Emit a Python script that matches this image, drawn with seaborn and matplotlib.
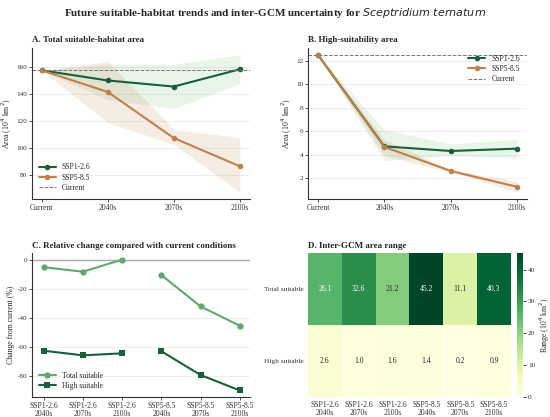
import matplotlib
matplotlib.use("Agg")
import matplotlib.pyplot as plt
import seaborn as sns
import numpy as np
import pandas as pd

# ---- data ----
periods = ["Current", "2040s", "2070s", "2100s"]
total_ssp126 = [157.5, 150.0, 145.5, 158.3]
total_ssp126_lo = [157.5, 136.0, 129.3, 147.8]
total_ssp126_hi = [157.5, 162.1, 161.9, 169.0]
total_ssp585 = [157.5, 141.5, 107.4, 86.5]
total_ssp585_lo = [157.5, 118.8, 102.8, 67.4]
total_ssp585_hi = [157.5, 164.0, 113.9, 107.7]

high_ssp126 = [12.5, 4.7, 4.3, 4.5]
high_ssp126_lo = [12.5, 3.5, 3.9, 3.7]
high_ssp126_hi = [12.5, 6.1, 4.9, 5.3]
high_ssp585 = [12.5, 4.65, 2.6, 1.25]
high_ssp585_lo = [12.5, 3.9, 2.5, 0.8]
high_ssp585_hi = [12.5, 5.3, 2.7, 1.7]

current_total = 157.5
current_high = 12.5

combos = ["SSP1-2.6\n2040s", "SSP1-2.6\n2070s", "SSP1-2.6\n2100s",
          "SSP5-8.5\n2040s", "SSP5-8.5\n2070s", "SSP5-8.5\n2100s"]
change_total = [-4.8, -7.9, 0.4, -10.2, -31.9, -45.2]
change_high = [-62.4, -65.6, -64.2, -62.8, -79.2, -89.8]

range_rows = ["Total suitable", "High suitable"]
range_total = [26.1, 32.6, 21.2, 45.2, 11.1, 40.3]
range_high = [2.6, 1.0, 1.6, 1.4, 0.2, 0.9]

# ---- style ----
sns.set_theme(style="whitegrid")
plt.rcParams["font.family"] = ["Liberation Serif", "DejaVu Sans"]
plt.rcParams.update({
    "axes.unicode_minus": False,
    "axes.edgecolor": "#333333",
    "axes.linewidth": 0.8,
    "grid.color": "#ebebeb",
    "grid.linewidth": 0.6,
    "xtick.bottom": True,
    "ytick.left": True,
    "xtick.major.size": 2,
    "ytick.major.size": 2,
    "xtick.major.pad": 1.5,
    "ytick.major.pad": 1.5,
    "xtick.major.width": 0.6,
    "ytick.major.width": 0.6,
    "xtick.color": "#333333",
    "ytick.color": "#333333",
    "xtick.labelsize": 5.5,
    "ytick.labelsize": 5.2,
    "axes.labelsize": 5.6,
    "axes.labelpad": 1.5,
    "legend.fontsize": 5.5,
})

GREEN = "#1b5e3b"
ORANGE = "#c0804a"
LIGHT = "#5fa86c"
BAND_GREEN = "#6cbf6a"

fig = plt.figure(figsize=(5.5, 4.17), dpi=100)
fig.suptitle(r"Future suitable-habitat trends and inter-GCM uncertainty for $\it{Sceptridium\ ternatum}$",
             fontsize=8, fontweight="bold", y=0.985)

axA = fig.add_axes([0.058, 0.523, 0.396, 0.362])
axB = fig.add_axes([0.560, 0.523, 0.398, 0.362])
axC = fig.add_axes([0.058, 0.048, 0.396, 0.345])
axD = fig.add_axes([0.560, 0.048, 0.369, 0.345])
cax = fig.add_axes([0.940, 0.048, 0.011, 0.345])

x = np.arange(len(periods))


def trend_panel(ax, s1, s1lo, s1hi, s5, s5lo, s5hi, cur, title, loc):
    ax.fill_between(x, s1lo, s1hi, color=BAND_GREEN, alpha=0.15, lw=0)
    ax.fill_between(x, s5lo, s5hi, color=ORANGE, alpha=0.15, lw=0)
    df = pd.DataFrame({"x": np.concatenate([x, x]),
                       "area": s1 + s5,
                       "scen": ["SSP1-2.6"] * 4 + ["SSP5-8.5"] * 4})
    sns.lineplot(data=df, x="x", y="area", hue="scen", marker="o",
                 palette=[GREEN, ORANGE], lw=1.5, markersize=4,
                 markeredgewidth=0, ax=ax)
    ax.axhline(cur, color="#777777", ls="--", lw=0.7, label="Current")
    ax.set_xticks(x)
    ax.set_xticklabels(periods)
    ax.set_xlabel("")
    ax.set_ylabel("Area (10$^4$ km$^2$)")
    ax.grid(axis="x", visible=False)
    ax.set_title(title, loc="left", fontsize=6.5, fontweight="bold", pad=4)
    ax.legend(loc=loc, frameon=False, handlelength=2.2, labelspacing=0.3)
    sns.despine(ax=ax)


trend_panel(axA, total_ssp126, total_ssp126_lo, total_ssp126_hi,
            total_ssp585, total_ssp585_lo, total_ssp585_hi, current_total,
            "A. Total suitable-habitat area", "lower left")
trend_panel(axB, high_ssp126, high_ssp126_lo, high_ssp126_hi,
            high_ssp585, high_ssp585_lo, high_ssp585_hi, current_high,
            "B. High-suitability area", "upper right")

# ---- C ----
xc = np.arange(len(combos))
axC.axhline(0, color="#aaaaaa", lw=1.0)
for grp in (slice(0, 3), slice(3, 6)):
    first = grp.start == 0
    sns.lineplot(x=xc[grp], y=change_total[grp], color=LIGHT, marker="o",
                 markersize=4.5, markeredgewidth=0, lw=1.5, ax=axC,
                 label="Total suitable" if first else None)
    sns.lineplot(x=xc[grp], y=change_high[grp], color=GREEN, marker="s",
                 markersize=4.5, markeredgewidth=0, lw=1.5, ax=axC,
                 label="High suitable" if first else None)
axC.set_xticks(xc)
axC.set_xticklabels(combos, linespacing=0.95)
axC.set_xlim(-0.3, 5.25)
axC.set_ylabel("Change from current (%)")
axC.grid(axis="x", visible=False)
axC.set_title("C. Relative change compared with current conditions", loc="left",
              fontsize=6.5, fontweight="bold", pad=4)
axC.legend(loc="lower left", frameon=False, handlelength=2.2, labelspacing=0.3)
sns.despine(ax=axC)

# ---- D ----
heat = pd.DataFrame([range_total, range_high], index=range_rows, columns=combos)
sns.heatmap(heat, ax=axD, cbar_ax=cax, cmap="YlGn", vmin=0, annot=True, fmt=".1f",
            annot_kws={"fontsize": 5.5}, cbar_kws={"label": "Range (10$^4$ km$^2$)"})
axD.set_xticklabels(combos, rotation=0, linespacing=0.95)
axD.set_yticklabels(range_rows, rotation=0)
axD.tick_params(length=0, pad=3)
axD.set_title("D. Inter-GCM area range", loc="left", fontsize=6.5,
              fontweight="bold", pad=4)
cax.tick_params(labelsize=5.2, length=2, pad=1.5)
cax.yaxis.label.set_size(5.6)
cax.yaxis.labelpad = 1.5
cax.set_yticks([0, 10, 20, 30, 40])

fig.savefig("out.png", dpi=100)
